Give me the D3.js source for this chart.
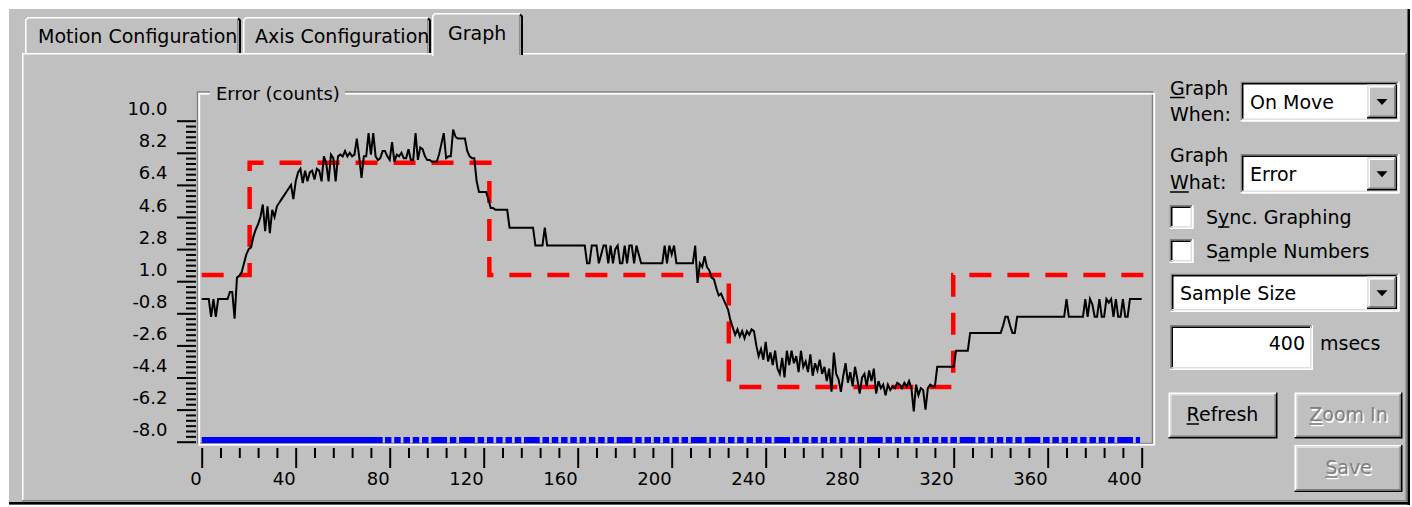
<!DOCTYPE html>
<html>
<head>
<meta charset="utf-8">
<script src="https://cdn.jsdelivr.net/npm/d3@7"></script>
<style>
  html, body { margin: 0; padding: 0; background: #fff; }
  svg { display: block; }
  text { font-family: "DejaVu Sans", sans-serif; fill: #000; }
</style>
</head>
<body>
<svg id="chart" width="1412" height="507"></svg>
<script>
// ---- Data ---------------------------------------------------------------
// Following error per sample (counts), samples 0..400
const errorCounts = [
  0, 0, 0, 0, -1, 0, -1, 0, 0, 0,
  0, 0, 0.4, 0.4, -1.1, 1.2, 1.3, 1.5, 2.0, 2.5,
  2.8, 2.9, 3.5, 3.9, 4.2, 4.6, 5.3, 3.8, 5.2, 3.7,
  5.0, 4.6, 5.2, 5.4, 5.6, 5.8, 6.0, 6.2, 6.4, 5.6,
  6.6, 7.1, 7.3, 6.5, 7.2, 6.6, 7.1, 7.2, 6.7, 7.3,
  7.2, 6.6, 8.0, 7.6, 6.6, 8.1, 7.9, 6.6, 8.0, 8.1,
  8.0, 8.3, 8.0, 8.2, 8.0, 8.1, 9.0, 8.0, 6.8, 8.0,
  8.0, 9.3, 8.1, 9.3, 8.0, 7.8, 7.9, 8.3, 8.3, 8.0,
  7.8, 8.8, 7.7, 8.1, 8.0, 8.2, 7.9, 7.9, 8.4, 7.8,
  7.8, 9.3, 7.8, 8.5, 8.4, 8.0, 7.8, 7.8, 7.7, 7.7,
  7.7, 8.1, 8.7, 9.3, 7.9, 8.0, 8.0, 9.5, 9.1, 9.0,
  9.0, 9.0, 9.0, 8.3, 8.0, 7.9, 7.9, 6.6, 6.0, 6.0,
  6.0, 6.0, 5.6, 5.1, 5.1, 5.0, 5.0, 5.0, 5.0, 5.0,
  5.0, 4, 4, 4, 4, 4, 4, 4, 4, 4,
  4, 4, 3, 3, 3, 3, 4, 3, 3, 3,
  3, 3, 3, 3, 3, 3, 3, 3, 3, 3,
  3, 3, 3, 3, 2, 2, 3, 3, 3, 2,
  2.5, 3, 3, 2, 3, 2, 2.8, 3, 2, 2,
  3, 2, 3, 3, 2, 3, 2.5, 2, 2, 2,
  2, 2, 2, 2, 2, 2, 2, 3, 2, 3,
  2.5, 3, 2, 2, 2, 2, 2, 2, 2, 2,
  3, 0.9, 2.0, 1.8, 2.4, 1.8, 1.6, 1.2, 1.1, 0.6,
  0.2, 0.3, 0.0, -0.3, -0.6, -1.2, -1.6, -2.0, -1.7, -2.1,
  -1.8, -2.2, -1.8, -2.0, -1.7, -1.8, -2.6, -3.2, -2.8, -3.4,
  -2.4, -3.5, -3.0, -3.7, -2.9, -3.9, -4.2, -3.3, -4.4, -2.9,
  -3.7, -2.9, -3.6, -3.2, -4.1, -2.9, -3.8, -3.5, -4.1, -3.1,
  -4.3, -3.6, -4.0, -3.4, -4.2, -3.8, -4.6, -3.9, -5.2, -3.0,
  -4.2, -4.5, -5.2, -4.3, -3.6, -4.7, -4.1, -4.9, -3.8, -4.5,
  -5.3, -4.4, -4.2, -4.9, -4.0, -4.6, -3.9, -5.3, -4.6, -5.0,
  -4.8, -5.4, -4.8, -5.1, -4.9, -5.0, -4.7, -4.8, -5.0, -4.7,
  -4.9, -4.6, -5.0, -6.3, -4.8, -5.4, -5.0, -5.1, -6.2, -5.0,
  -4.8, -4.9, -4.9, -3.8, -3.8, -3.8, -3.8, -3.8, -3.8, -3.8,
  -3.8, -2.9, -2.9, -2.9, -2.9, -2.9, -2.9, -1.9, -1.9, -1.9,
  -1.9, -1.9, -1.9, -1.9, -1.9, -1.9, -1.9, -1.9, -1.9, -1.9,
  -1.9, -1.5, -1.0, -1.0, -1.5, -1.9, -1.9, -1.0, -1.0, -1.0,
  -1, -1, -1, -1, -1, -1, -1, -1, -1, -1,
  -1, -1, -1, -1, -1, -1, -1, -1, 0, -1,
  -1, -1, -1, -1, -1, -1, 0, -1, 0, -0.3,
  -1, -1, 0, -1, -1, 0, -0.2, 0, -1, 0,
  -1, -1, 0, -1, -1, 0, 0, 0, 0, 0,
  0
];

// Commanded profile: sample where each level begins, and the level
const commandStarts = [0, 20.4, 122.4, 224.3, 319.8];
const commandLevels = [1.35, 7.64, 1.35, -4.93, 1.35];
const commandEnd = 401.5;

// Digital trace (in-motion flag) held at one level
const flagLevel = -7.9;
const flagStart = 0;
const flagSolidEnd = 77;
const flagEnd = 399.3;

// Axis ticks
const xTicks = [0, 40, 80, 120, 160, 200, 240, 280, 320, 360, 400];
const yTicks = [10.0, 8.2, 6.4, 4.6, 2.8, 1.0, -0.8, -2.6, -4.4, -6.2, -8.0];

// ---- Styles -------------------------------------------------------------
const FACE = "#c0c0c0", SHADOW = "#808080", DARK = "#000", LIGHT = "#fff", MID = "#dfdfdf";
// run lengths (in sample periods) of the flag markers after the solid part
const flagRuns = [1,1,1,1,1,2,1,2,1,1,1,1,1,2,1,1,1,1,1,1,1,1,2,1,1,1,1,1,1,2,
                  1,1,1,1,1,1,1,2,1,1,1,1,1,1,1,1,2,1,1,1,1,1,1,1,1,2,1,1,1,1,1,2,
                  1,1,1,1,1,1,1,1,2,1];

const svg = d3.select("#chart");
svg.append("rect").attr("width", 1412).attr("height", 507).attr("fill", "#fff");
svg.append("rect").attr("x", 9).attr("y", 9).attr("width", 1401).attr("height", 496).attr("fill", FACE);

function line(g, x1, y1, x2, y2, c, w) {
  g.append("line").attr("x1", x1).attr("y1", y1).attr("x2", x2).attr("y2", y2)
    .attr("stroke", c).attr("stroke-width", w || 1.5);
}
// two-tone bevel box (Windows 3D look)
function bevel(g, x, y, w, h, oTL, iTL, oBR, iBR, fill) {
  const s = 1.5;
  if (fill) g.append("rect").attr("x", x).attr("y", y).attr("width", w).attr("height", h).attr("fill", fill);
  const p = (d, c) => g.append("path").attr("d", d).attr("fill", "none").attr("stroke", c).attr("stroke-width", s);
  p(`M${x + s/2},${y + h} V${y + s/2} H${x + w}`, oTL);
  p(`M${x},${y + h - s/2} H${x + w - s/2} V${y}`, oBR);
  p(`M${x + s*1.5},${y + h - s} V${y + s*1.5} H${x + w - s}`, iTL);
  p(`M${x + s},${y + h - s*1.5} H${x + w - s*1.5} V${y + s}`, iBR);
}
function sunken(g, x, y, w, h, fill) { bevel(g, x, y, w, h, SHADOW, DARK, LIGHT, MID, fill); }
function raised(g, x, y, w, h) { bevel(g, x, y, w, h, LIGHT, MID, DARK, SHADOW, FACE); }

function label(g, x, y, str, o) {
  o = o || {};
  const size = o.size || 19;
  const mk = (dx, dy, col) => g.append("text").attr("x", x + dx).attr("y", y + dy)
    .attr("font-size", size).attr("text-anchor", o.anchor || "start")
    .style("fill", col).text(str);
  let t;
  if (o.disabled) { mk(1.5, 1.5, LIGHT); t = mk(0, 0, SHADOW); }
  else t = mk(0, 0, o.color || DARK);
  if (o.u !== undefined) {
    const n = t.node();
    const a = n.getStartPositionOfChar(o.u).x, b = n.getEndPositionOfChar(o.u).x;
    if (o.disabled) line(g, a + 1.5, y + 4.5, b + 1.5, y + 4.5, LIGHT, 1.5);
    line(g, a, y + 3, b, y + 3, o.disabled ? SHADOW : DARK, 1.5);
  }
  return t;
}

// ---- Tab control --------------------------------------------------------
const ui = svg.append("g");
// page
line(ui, 22.75, 53, 22.75, 501, LIGHT);
line(ui, 22, 53.75, 1407, 53.75, LIGHT);
line(ui, 1406.25, 53, 1406.25, 501.5, SHADOW);
line(ui, 1408.75, 9, 1408.75, 505, DARK, 2.5);
line(ui, 22, 500.75, 1407, 500.75, SHADOW);
line(ui, 9, 503.25, 1410, 503.25, DARK, 2.5);

function tab(L, R, T, text, tx, ty, selected) {
  const g = ui.append("g");
  if (selected) g.append("rect").attr("x", L).attr("y", T).attr("width", R - L).attr("height", 56 - T).attr("fill", FACE);
  g.append("path").attr("d", `M${L + 0.75},${selected ? 56 : 53} V${T + 3} L${L + 3},${T + 0.75} H${R - 3}`)
    .attr("fill", "none").attr("stroke", LIGHT).attr("stroke-width", 1.5);
  g.append("path").attr("d", `M${R - 3},${T + 1.5} L${R - 1},${T + 3.5} V${selected ? 55 : 53}`)
    .attr("fill", "none").attr("stroke", DARK).attr("stroke-width", 2);
  line(g, R - 3.2, T + 3, R - 3.2, selected ? 55 : 53, SHADOW, 1.2);
  label(g, tx, ty, text, { size: 19 });
}
tab(25, 241, 17, "Motion Configuration", 38, 43, false);
tab(243, 431, 17, "Axis Configuration", 255, 43, false);
tab(432, 523, 13, "Graph", 448, 40, true);

// ---- Plot ---------------------------------------------------------------
const x = d3.scaleLinear().domain([0, 400]).range([201.7, 1141.7]);
const y = d3.scaleLinear().domain([-8, 10]).range([441.7, 120.7]);

// group box frame
const fr = svg.append("g");
fr.append("rect").attr("x", 197.5).attr("y", 92).attr("width", 955).attr("height", 351.5)
  .attr("fill", "none").attr("stroke", SHADOW).attr("stroke-width", 1.5);
fr.append("rect").attr("x", 199.25).attr("y", 93.75).attr("width", 955).attr("height", 351)
  .attr("fill", "none").attr("stroke", LIGHT).attr("stroke-width", 1.8);
fr.append("rect").attr("x", 210).attr("y", 85).attr("width", 135).attr("height", 14).attr("fill", FACE);
label(fr, 216, 99.5, "Error (counts)", { size: 18 });

// command profile (red dashed step)
const cmdPts = commandStarts.map((u, i) => [u, commandLevels[i]]);
cmdPts.push([commandEnd, commandLevels[commandLevels.length - 1]]);
svg.append("path")
  .attr("d", d3.line().x(d => x(d[0])).y(d => y(d[1])).curve(d3.curveStepAfter)(cmdPts))
  .attr("fill", "none").attr("stroke", "#ff0000").attr("stroke-width", 4.5)
  .attr("stroke-dasharray", "22,16");

// digital flag (blue)
const flagPeriod = 9.27, flagGap = 2.8;
const flagDash = [];
flagRuns.forEach(r => { flagDash.push(r * flagPeriod - flagGap, flagGap); });
svg.append("path")
  .attr("d", d3.line()([[x(flagStart), y(flagLevel)], [x(flagSolidEnd), y(flagLevel)]]))
  .attr("stroke", "#0000ff").attr("stroke-width", 6);
svg.append("path")
  .attr("d", d3.line()([[x(flagSolidEnd) + 2.3, y(flagLevel)], [x(flagEnd), y(flagLevel)]]))
  .attr("stroke", "#0000ff").attr("stroke-width", 6)
  .attr("stroke-dasharray", flagDash.join(","));

// following error trace
svg.append("path")
  .datum(errorCounts)
  .attr("d", d3.line().x((d, i) => x(i)).y(d => y(d)))
  .attr("fill", "none").attr("stroke", "#000").attr("stroke-width", 2)
  .attr("stroke-linejoin", "miter");

// axes
function styleAxis(g) {
  g.select(".domain").remove();
  g.selectAll(".tick line").attr("stroke", "#000").attr("stroke-width", 2);
}
const xMinor = d3.range(0, 401, 8).filter(v => v % 40 !== 0);
svg.append("g").attr("transform", "translate(0,448)")
  .call(d3.axisBottom(x).tickValues(xMinor).tickSize(10).tickFormat(""))
  .call(styleAxis);
const xa = svg.append("g").attr("transform", "translate(0,448)")
  .call(d3.axisBottom(x).tickValues(xTicks).tickSize(20).tickFormat(d => String(d)))
  .call(styleAxis);
xa.selectAll(".tick text").attr("y", 37).attr("dy", 0).attr("x", -0.5)
  .attr("text-anchor", "end").attr("font-size", 18)
  .attr("font-family", "DejaVu Sans").style("fill", "#000");

const yMinor = d3.range(0, 61).map(k => -8 + k * 0.3).filter(v => Math.round(v * 10) % 18 !== Math.round(-8 * 10) % 18 || false)
  .filter(v => !yTicks.some(t => Math.abs(t - v) < 1e-6));
svg.append("g").attr("transform", "translate(196,0)")
  .call(d3.axisLeft(y).tickValues(yMinor).tickSize(10).tickFormat(""))
  .call(styleAxis);
const ya = svg.append("g").attr("transform", "translate(196,0)")
  .call(d3.axisLeft(y).tickValues(yTicks).tickSize(19).tickFormat(d => d.toFixed(1)))
  .call(styleAxis);
ya.selectAll(".tick text").attr("x", -28.5).attr("y", -6).attr("dy", 0)
  .attr("text-anchor", "end").attr("font-size", 18)
  .attr("font-family", "DejaVu Sans").style("fill", "#000");

// ---- Side controls ------------------------------------------------------
const side = svg.append("g");
function combo(x0, y0, w, h, text) {
  sunken(side, x0, y0, w, h, LIGHT);
  const bx = x0 + w - 32.5, by = y0 + 3, bw = 30, bh = h - 6;
  bevel(side, bx, by, bw, bh, MID, LIGHT, DARK, SHADOW, FACE);
  const cx = bx + bw / 2, cy = by + bh / 2 + 0.5;
  side.append("path").attr("d", `M${cx - 5.5},${cy - 3} H${cx + 5.5} L${cx},${cy + 3} Z`).attr("fill", DARK);
  label(side, x0 + 9.5, y0 + h / 2 + 7, text);
}
label(side, 1170, 94.5, "Graph", { u: 0 });
label(side, 1170, 120.5, "When:");
combo(1240.5, 81.5, 159, 40, "On Move");
label(side, 1170, 162, "Graph");
label(side, 1170, 189, "What:", { u: 0 });
combo(1240.5, 154, 159, 39.5, "Error");

sunken(side, 1169.5, 205, 24, 24, LIGHT);
label(side, 1206, 224, "Sync. Graphing", { u: 1 });
sunken(side, 1169.5, 239, 24, 24, LIGHT);
label(side, 1206, 257.5, "Sample Numbers", { u: 1 });

combo(1170.5, 273.5, 229, 38.5, "Sample Size");

sunken(side, 1170, 325, 143, 45, LIGHT);
label(side, 1305, 349.5, "400", { anchor: "end" });
label(side, 1320, 349.5, "msecs");

raised(side, 1168.5, 392.5, 109, 46);
label(side, 1222.5, 421, "Refresh", { anchor: "middle", u: 0 });
raised(side, 1294.5, 392.5, 108, 46);
label(side, 1348.5, 421, "Zoom In", { anchor: "middle", u: 0, disabled: true });
raised(side, 1294.5, 445, 108, 47);
label(side, 1348.5, 474, "Save", { anchor: "middle", u: 0, disabled: true });
</script>
</body>
</html>
